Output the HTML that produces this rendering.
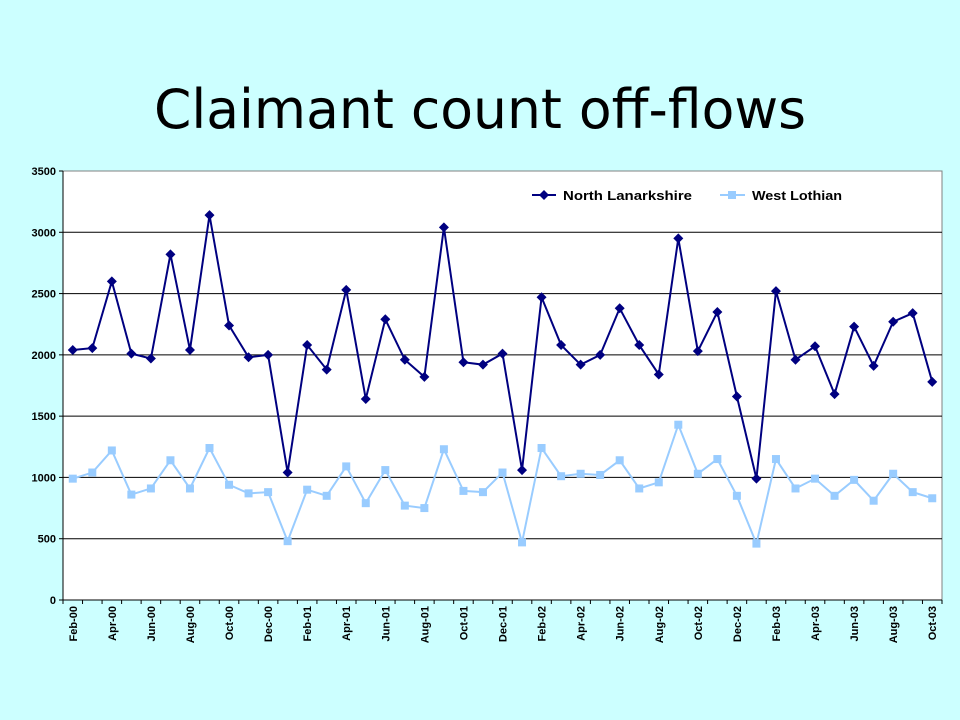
<!DOCTYPE html>
<html><head><meta charset="utf-8"><style>
html,body{margin:0;padding:0;background:#CCFFFF;}
svg{display:block;font-family:"Liberation Sans",Arial,sans-serif;}
</style></head><body>
<svg id="chart" width="960" height="720" viewBox="0 0 960 720">
<rect x="0" y="0" width="960" height="720" fill="#CCFFFF"/>
<text x="480" y="128" text-anchor="middle" font-family="DejaVu Sans, sans-serif" font-size="54" textLength="652" lengthAdjust="spacingAndGlyphs" fill="#000">Claimant count off-flows</text>
<rect x="63" y="171" width="879" height="429" fill="#fff" stroke="#808080"/>
<g id="grid"></g><g id="axes"></g><g id="series"></g>
<g>
<line x1="532" y1="195" x2="556" y2="195" stroke="#000080" stroke-width="2"/>
<path d="M544 190 L549 195 L544 200 L539 195Z" fill="#000080"/>
<text x="563" y="200" font-size="13" font-weight="bold" textLength="129" lengthAdjust="spacingAndGlyphs">North Lanarkshire</text>
<line x1="720" y1="195" x2="745" y2="195" stroke="#99CCFF" stroke-width="2"/>
<rect x="728" y="191" width="8" height="8" fill="#99CCFF"/>
<text x="752" y="200" font-size="13" font-weight="bold" textLength="90" lengthAdjust="spacingAndGlyphs">West Lothian</text>
</g>
</svg>
<script>
const months=["Feb-00","Mar-00","Apr-00","May-00","Jun-00","Jul-00","Aug-00","Sep-00","Oct-00","Nov-00","Dec-00","Jan-01","Feb-01","Mar-01","Apr-01","May-01","Jun-01","Jul-01","Aug-01","Sep-01","Oct-01","Nov-01","Dec-01","Jan-02","Feb-02","Mar-02","Apr-02","May-02","Jun-02","Jul-02","Aug-02","Sep-02","Oct-02","Nov-02","Dec-02","Jan-03","Feb-03","Mar-03","Apr-03","May-03","Jun-03","Jul-03","Aug-03","Sep-03","Oct-03"];
const northLanarkshire=[2040,2055,2600,2010,1970,2820,2040,3140,2240,1980,2000,1040,2080,1880,2530,1640,2290,1960,1820,3040,1940,1920,2010,1060,2470,2080,1920,2000,2380,2080,1840,2950,2030,2350,1660,990,2520,1960,2070,1680,2230,1910,2270,2340,1780];
const westLothian=[990,1040,1220,860,910,1140,910,1240,940,870,880,480,900,850,1090,790,1060,770,750,1230,890,880,1040,470,1240,1010,1030,1020,1140,910,960,1430,1030,1150,850,460,1150,910,990,850,980,810,1030,880,830];
const yTicks=[0,500,1000,1500,2000,2500,3000,3500];
const NS="http://www.w3.org/2000/svg";
const L=63,R=942,T=171,B=600,YMAX=3500;
const n=months.length, step=(R-L)/n;
function xs(i){return L+step*(i+0.5);}
function ys(v){return B-(v/YMAX)*(B-T);}
function mk(tag,attrs,parent){const e=document.createElementNS(NS,tag);for(const k in attrs)e.setAttribute(k,attrs[k]);parent.appendChild(e);return e;}
const grid=document.getElementById('grid'),axes=document.getElementById('axes'),ser=document.getElementById('series');
yTicks.forEach(v=>{
  if(v>0&&v<YMAX){const g=mk('line',{x1:L,x2:R,y1:ys(v),y2:ys(v),stroke:'#000','stroke-width':1},grid);
  
  }
  const tk=mk('line',{x1:L-4,x2:L,y1:ys(v),y2:ys(v),stroke:'#000'},axes);
  
  
  const t=mk('text',{x:L-7,y:ys(v)+4,'text-anchor':'end','font-size':11,'font-weight':'bold'},axes);
  t.textContent=v;
  
  
});
mk('line',{x1:L,x2:L,y1:T,y2:B,stroke:'#000'},axes);
mk('line',{x1:L,x2:R,y1:B,y2:B,stroke:'#000'},axes);
for(let i=0;i<=n;i++){mk('line',{x1:L+step*i,x2:L+step*i,y1:B,y2:B+4,stroke:'#000'},axes);}
months.forEach((m,i)=>{
  if(i%2)return;
  const x=xs(i);
  const t=mk('text',{x:0,y:0,'text-anchor':'end','font-size':11,'font-weight':'bold',transform:`translate(${x+4},${B+6}) rotate(-90)`},axes);
  t.textContent=m;
  
  
});
function series(data,color,shape,name){
  const p=mk('polyline',{points:data.map((v,i)=>xs(i)+','+ys(v)).join(' '),fill:'none',stroke:color,'stroke-width':2},ser);
  
  
  data.forEach((v,i)=>{
    const x=xs(i),y=ys(v);let e;
    if(shape==='d')e=mk('path',{d:`M${x} ${y-5}L${x+5} ${y}L${x} ${y+5}L${x-5} ${y}Z`,fill:color},ser);
    else e=mk('rect',{x:x-4,y:y-4,width:8,height:8,fill:color},ser);
    
    
  });
}
series(westLothian,'#99CCFF','s','west-lothian');
series(northLanarkshire,'#000080','d','north-lanarkshire');
</script>
</body></html>
